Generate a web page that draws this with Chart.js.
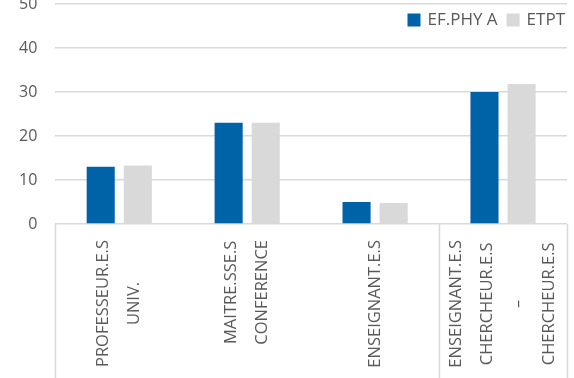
<!DOCTYPE html>
<html>
<head>
    <title>Effectifs par corps</title>
    <script src="https://cdn.jsdelivr.net/npm/chart.js"></script>
    <style>
      html, body {
    margin: 0;
    padding: 0;
    background: #ffffff;
}

#wrap {
    position: relative;
    width: 574px;
    height: 378px;
    overflow: hidden;
}

#corpsChart {
    position: absolute;
    left: 0;
    top: -30px;
}
    </style>
</head>
<body>
  <div id="wrap">
    <canvas id="corpsChart" width="574" height="408"></canvas>
  </div>

  <script>
// categories, one entry per line of the (rotated) axis label
const categories = [
    ['PROFESSEUR.E.S', 'UNIV.'],
    ['MAITRE.SSE.S', 'CONFERENCE'],
    ['ENSEIGNANT.E.S'],
    ['ENSEIGNANT.E.S', 'CHERCHEUR.E.S', '–', 'CHERCHEUR.E.S']
];
const seriesNames = ['EF.PHY A', 'ETPT'];
const efPhyA = [13, 23, 5, 30];
const etpt = [13.3, 23, 4.8, 31.8];
const yTicks = [0, 10, 20, 30, 40, 50];

const TEXT = '#595959';
const GRID = '#d9d9d9';
const FONT = '"Open Sans", "Liberation Sans", sans-serif';

// rotated category labels, lines centred on the longest one
const categoryLabels = {
    id: 'categoryLabels',
    afterDraw(chart) {
        const ctx = chart.ctx;
        const x = chart.scales.x;
        const area = chart.chartArea;
        const lineGap = 31;
        ctx.save();
        ctx.font = '16.5px ' + FONT;
        ctx.fillStyle = TEXT;
        ctx.textAlign = 'center';
        ctx.textBaseline = 'middle';
        categories.forEach((lines, i) => {
            const widest = Math.max(...lines.map(l => ctx.measureText(l).width));
            const cx = x.getPixelForValue(i);
            const cy = area.bottom + 16 + widest / 2;
            lines.forEach((line, j) => {
                ctx.save();
                ctx.translate(cx + (j - (lines.length - 1) / 2) * lineGap, cy);
                ctx.rotate(-Math.PI / 2);
                ctx.fillText(line, 0, 0);
                ctx.restore();
            });
        });
        ctx.restore();
    }
};

// the vertical dividers under the axis (left edge, before the last group, right edge)
const axisDividers = {
    id: 'axisDividers',
    afterDraw(chart) {
        const ctx = chart.ctx;
        const x = chart.scales.x;
        const area = chart.chartArea;
        const n = categories.length;
        const mid = (x.getPixelForValue(n - 2) + x.getPixelForValue(n - 1)) / 2;
        ctx.save();
        ctx.strokeStyle = GRID;
        ctx.lineWidth = 1.5;
        [area.left, mid, area.right].forEach(px => {
            ctx.beginPath();
            ctx.moveTo(Math.round(px) + 0.5, area.bottom);
            ctx.lineTo(Math.round(px) + 0.5, chart.height);
            ctx.stroke();
        });
        ctx.restore();
    }
};

// legend sitting inside the plot, top right
const innerLegend = {
    id: 'innerLegend',
    afterDraw(chart) {
        const ctx = chart.ctx;
        const area = chart.chartArea;
        const box = 13, textGap = 7, itemGap = 9;
        ctx.save();
        ctx.font = '17px ' + FONT;
        ctx.textBaseline = 'middle';
        ctx.textAlign = 'left';
        const items = chart.data.datasets.map(ds => ({
            label: ds.label,
            color: ds.backgroundColor,
            w: box + textGap + ctx.measureText(ds.label).width
        }));
        const total = items.reduce((s, it) => s + it.w, 0) + itemGap * (items.length - 1);
        let px = area.right - 2 - total;
        const cy = area.top + 16;
        items.forEach(it => {
            ctx.fillStyle = it.color;
            ctx.fillRect(px, cy - box / 2, box, box);
            ctx.fillStyle = TEXT;
            ctx.fillText(it.label, px + box + textGap, cy);
            px += it.w + itemGap;
        });
        ctx.restore();
    }
};

function createChart() {
    const ctx = document.getElementById('corpsChart').getContext('2d');

    new Chart(ctx, {
        type: 'bar',
        data: {
            labels: categories,
            datasets: [
                {
                    label: seriesNames[0],
                    data: efPhyA,
                    backgroundColor: '#0063a8',
                    categoryPercentage: 0.58,
                    barPercentage: 0.757
                },
                {
                    label: seriesNames[1],
                    data: etpt,
                    backgroundColor: '#d9d9d9',
                    categoryPercentage: 0.58,
                    barPercentage: 0.757
                }
            ]
        },
        options: {
            responsive: false,
            animation: false,
            layout: {
                padding: { top: 34, left: 1, right: 7, bottom: 146 }
            },
            scales: {
                x: {
                    grid: { display: false },
                    border: { display: false },
                    ticks: { display: false }
                },
                y: {
                    min: yTicks[0],
                    max: yTicks[yTicks.length - 1],
                    afterBuildTicks: axis => {
                        axis.ticks = yTicks.map(v => ({ value: v }));
                    },
                    border: { display: false },
                    grid: { color: GRID, lineWidth: 1.5, drawTicks: false },
                    ticks: {
                        color: TEXT,
                        padding: 18,
                        font: { family: FONT, size: 16 }
                    }
                }
            },
            plugins: {
                legend: { display: false },
                tooltip: { enabled: false }
            }
        },
        plugins: [categoryLabels, axisDividers, innerLegend]
    });
}

document.addEventListener('DOMContentLoaded', createChart);
  </script>
</body>
</html>
